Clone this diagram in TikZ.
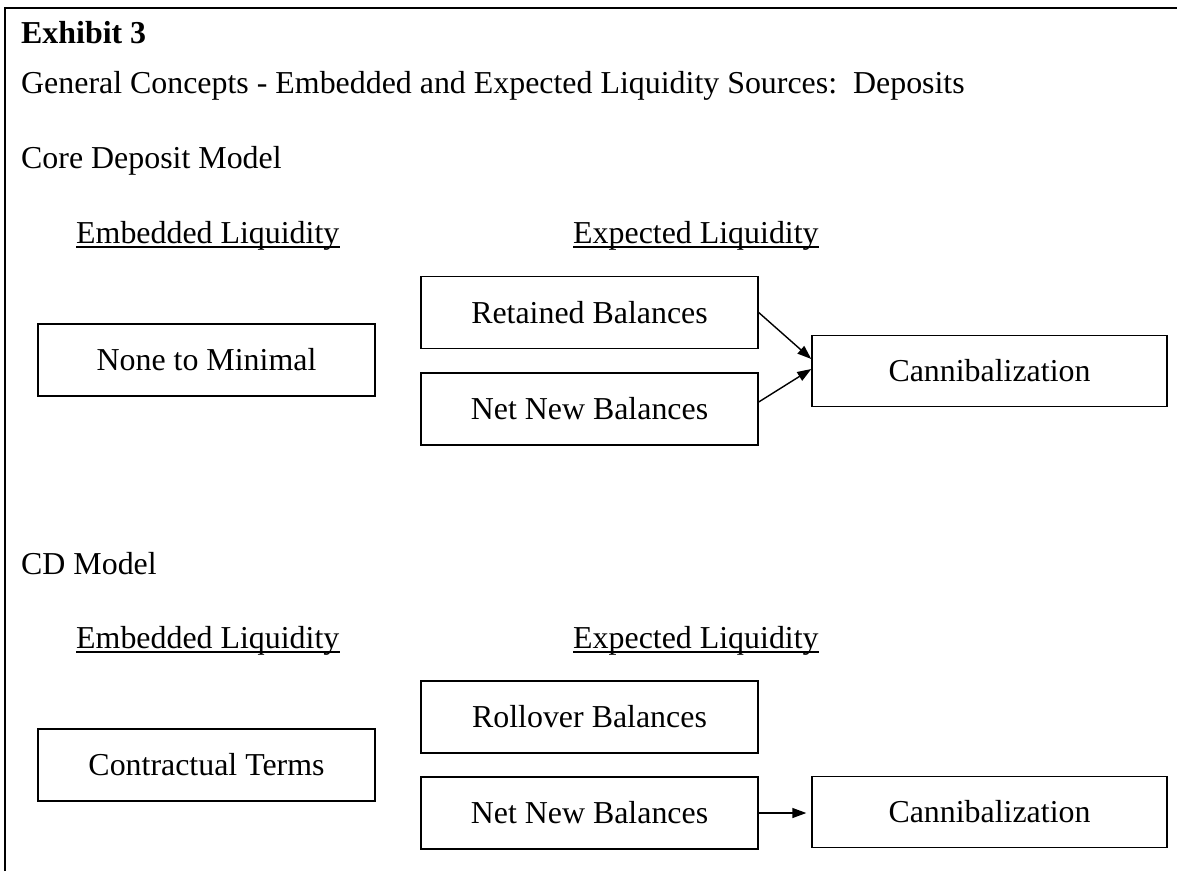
\documentclass[tikz,border=0pt]{standalone}
\usepackage{fontspec}
\setmainfont{Liberation Serif}
\usetikzlibrary{arrows.meta,calc}
\begin{document}
\begin{tikzpicture}[x=1pt,y=-1pt,
  every node/.style={font=\fontsize{31.9}{38}\selectfont},
  txt/.style={inner sep=0pt,anchor=base west},
  box/.style={draw,line width=1.4pt,inner sep=0pt,minimum width=337pt,minimum height=72pt},
  cbox/.style={box,minimum width=355pt,minimum height=71pt},
  uline/.style={line width=1.8pt},
  arr/.style={line width=1.4pt,-{Triangle[length=14pt,width=10pt]}}]
\useasboundingbox (0,0) rectangle (1177,871);
% frame (left and top sides)
\draw[line width=2pt] (5,871) -- (5,8) -- (1177,8);
% titles
\node[txt] (title) at (21,43) {\textbf{Exhibit 3}};
\node[txt] (sub) at (21,93) {General Concepts - Embedded and Expected Liquidity Sources:\ \ Deposits};
\node[txt] (core) at (21,168) {Core Deposit Model};
\node[txt] (embA) at (76,243) {Embedded Liquidity};
\node[txt] (expA) at (573,243) {Expected Liquidity};
\draw[uline] ($(embA.base west)+(0,4)$) -- ($(embA.base east)+(0,4)$);
\draw[uline] ($(expA.base west)+(0,4)$) -- ($(expA.base east)+(0,4)$);
% core deposit boxes
\node[box] (none) at (206.5,360) {None to Minimal};
\node[box] (ret) at (589.5,312.5) {Retained Balances};
\node[box] (nnbA) at (589.5,409) {Net New Balances};
\node[cbox] (canA) at (989.5,371) {Cannibalization};
\draw[arr] (ret.east) -- ($(canA.west)+(0,-12)$);
\draw[arr] ($(nnbA.east)+(0,-7)$) -- ($(canA.west)+(0,-2)$);
% CD model
\node[txt] (cd) at (21,574) {CD Model};
\node[txt] (embB) at (76,648) {Embedded Liquidity};
\node[txt] (expB) at (573,648) {Expected Liquidity};
\draw[uline] ($(embB.base west)+(0,4)$) -- ($(embB.base east)+(0,4)$);
\draw[uline] ($(expB.base west)+(0,4)$) -- ($(expB.base east)+(0,4)$);
\node[box] (con) at (206.5,765) {Contractual Terms};
\node[box] (roll) at (589.5,717) {Rollover Balances};
\node[box] (nnbB) at (589.5,813) {Net New Balances};
\node[cbox] (canB) at (989.5,812) {Cannibalization};
\draw[arr] (nnbB.east) -- ($(canB.west)+(-5,1)$);
\end{tikzpicture}
\end{document}
